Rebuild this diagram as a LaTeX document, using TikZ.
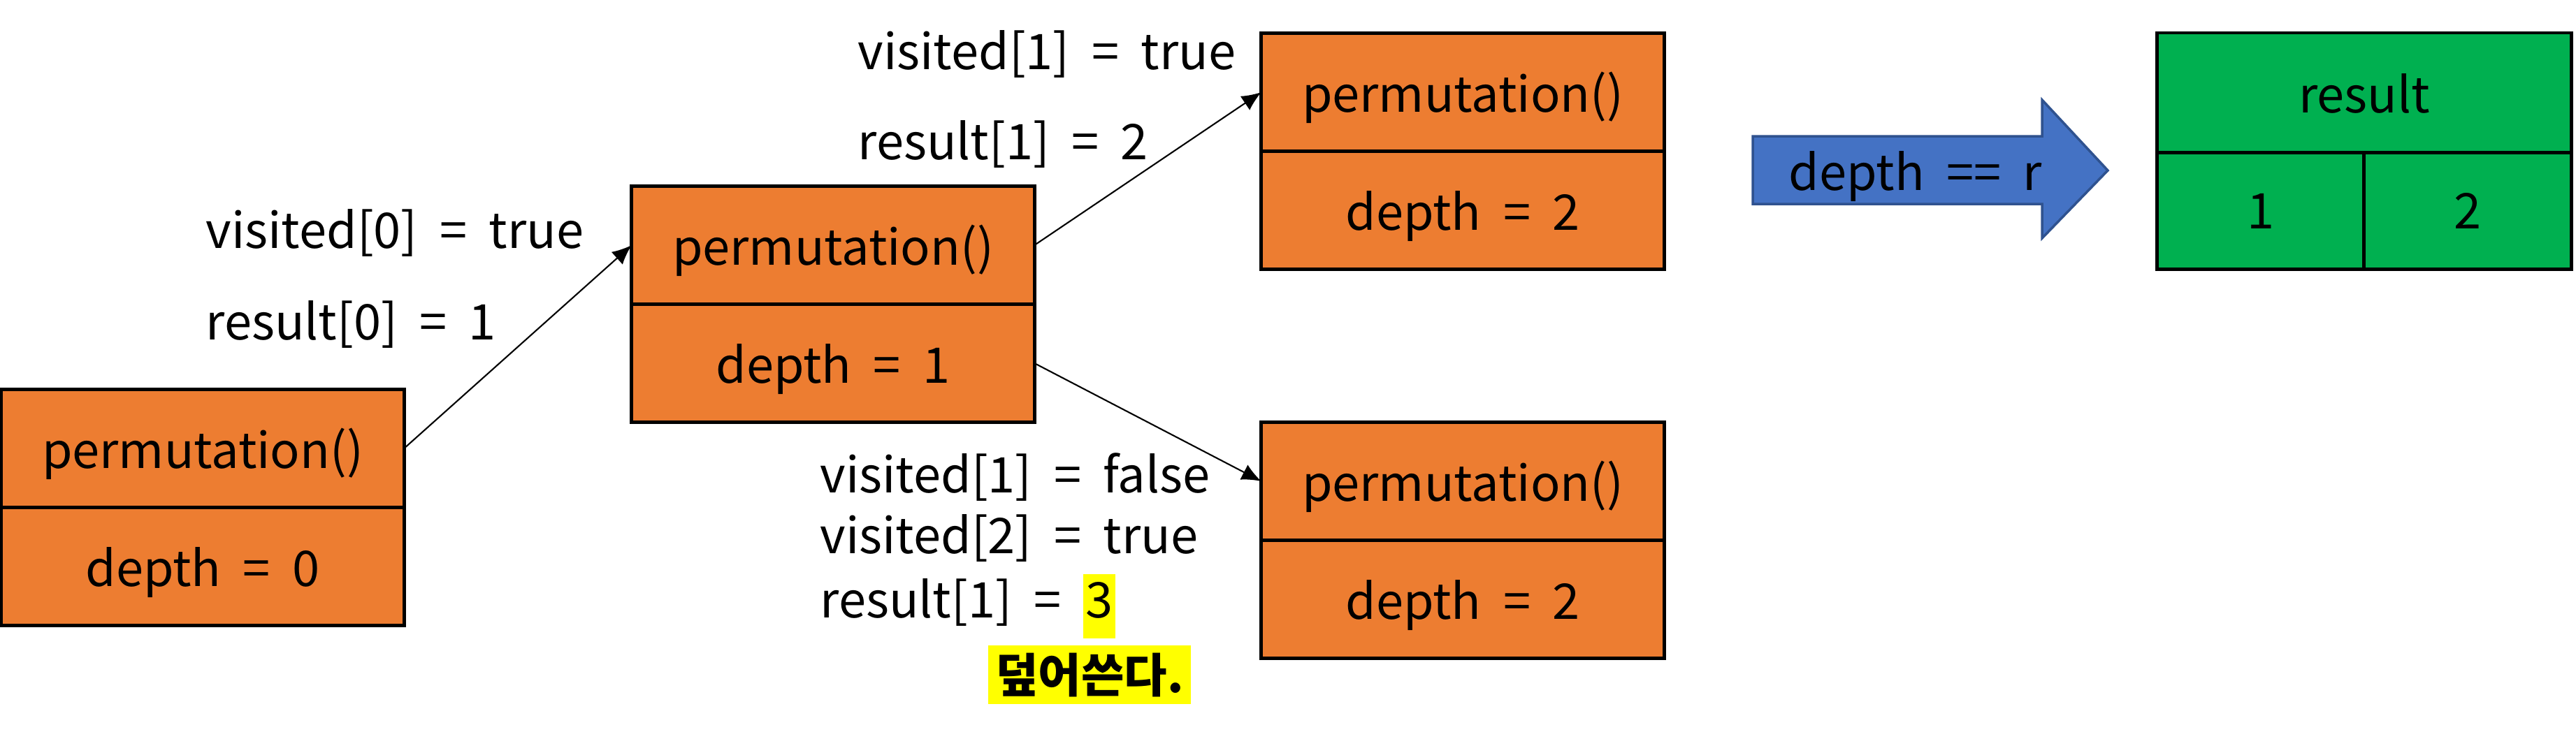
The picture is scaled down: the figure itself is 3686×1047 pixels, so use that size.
\documentclass[tikz,border=0pt]{standalone}
\usepackage{fontspec}
\setmainfont{Noto Sans CJK KR}
\usetikzlibrary{arrows.meta}

\definecolor{boxorange}{HTML}{ED7D31}
\definecolor{arrowblue}{HTML}{4472C4}
\definecolor{arrowedge}{HTML}{2F528F}
\definecolor{resgreen}{HTML}{00B050}
\definecolor{hl}{HTML}{FFFF00}

\tikzset{cell/.style = {shape = rectangle,
                        fill = boxorange,
                        draw = black,
                        line width = 1.4pt,
                        minimum width = 5.76cm,
                        minimum height = 1.695cm,
                        inner sep = 0pt,
                        outer sep = 0pt,
                        text depth = 0pt,
                        font = \fontsize{20}{24}\selectfont},
         rcell/.style = {cell,
                         fill = resgreen},
         lbl/.style = {anchor = west,
                       inner sep = 0pt,
                       font = \fontsize{20}{24}\selectfont},
         conn/.style = {-{Latex[length=0.28cm, width=0.24cm]},
                        line width = 0.6pt}}

\begin{document}
\begin{tikzpicture}[x=0.01cm, y=-0.01cm]
		\useasboundingbox (0,0) rectangle (3686,1047);
		% call boxes
		\node[cell] (p0) at (290,642) {permutation()};
		\node[cell] (d0) at (290,811) {depth \ = \ 0};
		\node[cell] (p1) at (1192,351) {permutation()};
		\node[cell] (d1) at (1192,520) {depth \ = \ 1};
		\node[cell] (p2) at (2093,132) {permutation()};
		\node[cell] (d2) at (2093,301) {depth \ = \ 2};
		\node[cell] (p3) at (2093,689) {permutation()};
		\node[cell] (d3) at (2093,858) {depth \ = \ 2};
		% calls
		\draw[conn] (p0.east) -- (p1.west);
		\draw[conn] (p1.east) -- (p2.west);
		\draw[conn] (d1.east) -- (p3.west);
		% labels
		\node[lbl] (v0) at (294,333) {visited[0] \ = \ true};
		\node[lbl] (r0) at (294,464) {result[0] \ = \ 1};
		\node[lbl] (v1) at (1227,77) {visited[1] \ = \ true};
		\node[lbl] (r1) at (1227,206) {result[1] \ = \ 2};
		\node[lbl] (v2) at (1173,683) {visited[1] \ = \ false};
		\node[lbl] (v3) at (1173,770) {visited[2] \ = \ true};
		\node[lbl] (r2) at (1173,868) {result[1] \ = \ {\fboxsep=1pt\colorbox{hl}{\strut 3}}};
		\node[fill = hl, inner sep = 3pt,
		      font = \fontsize{19}{22}\selectfont\bfseries] (note) at (1559,966) {덮어쓴다.};
		% depth == r
		\draw[fill = arrowblue, draw = arrowedge, line width = 1pt]
			(2508,195) -- (2922,195) -- (2922,143) -- (3016,244)
			-- (2922,341) -- (2922,292) -- (2508,292) -- cycle;
		\node[lbl, anchor = center, text depth = 0pt] (cond) at (2741,244) {depth \ == \ r};
		% result array
		\node[rcell, minimum width = 5.92cm, minimum height = 1.72cm] (res) at (3383,133) {result};
		\node[rcell, minimum width = 2.96cm, minimum height = 1.67cm] (e1) at (3235,302) {1};
		\node[rcell, minimum width = 2.96cm, minimum height = 1.67cm] (e2) at (3531,302) {2};
	\end{tikzpicture}
\end{document}
